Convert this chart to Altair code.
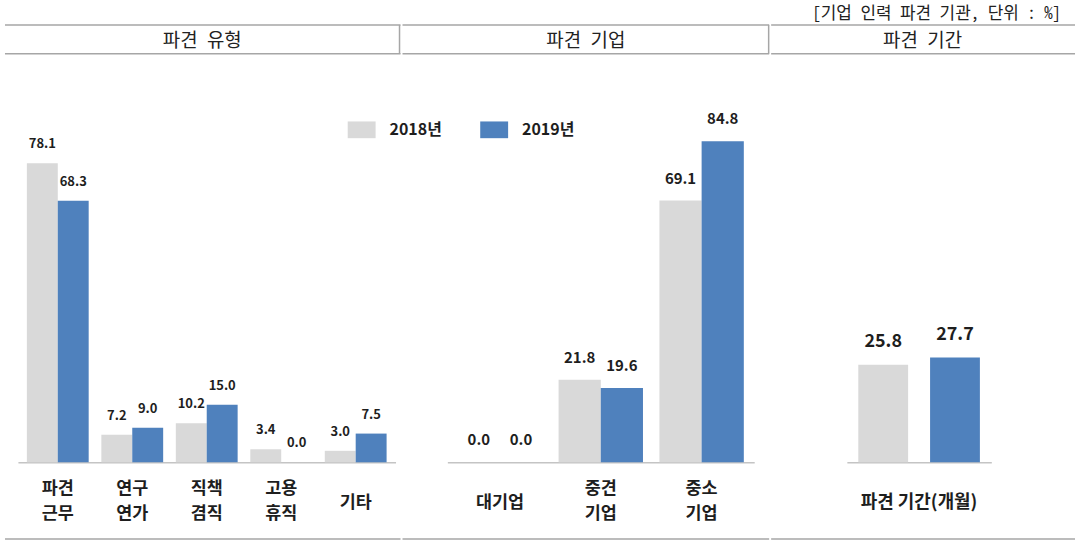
import altair as alt
import pandas as pd

FONT = "Noto Sans CJK KR"
MONO = "Noto Sans Mono CJK KR, Noto Sans CJK KR"
YEARS = ["2018년", "2019년"]
COLORS = ["#d9d9d9", "#4f81bd"]

note_text = "[기업 인력 파견 기관, 단위 : %]"
headers = ["파견 유형", "파견 기업", "파견 기간"]

type_cats = ["파견\n근무", "연구\n연가", "직책\n겸직", "고용\n휴직", "기타"]
type_2018 = [78.1, 7.2, 10.2, 3.4, 3.0]
type_2019 = [68.3, 9.0, 15.0, 0.0, 7.5]

firm_cats = ["대기업", "중견\n기업", "중소\n기업"]
firm_2018 = [0.0, 21.8, 69.1]
firm_2019 = [0.0, 19.6, 84.8]

period_cats = ["파견 기간(개월)"]
period_2018 = [25.8]
period_2019 = [27.7]

LINE = "#a6a6a6"
TXT = "#1e1e1e"

legend = alt.Legend(
    orient="none", legendX=349, legendY=115, direction="horizontal", title=None,
    symbolType="M-1,-0.6H1V0.6H-1Z", symbolSize=784, symbolStrokeWidth=0,
    labelFont=FONT, labelFontSize=16, labelFontWeight="bold", labelColor=TXT,
    labelOffset=14, columnPadding=38, padding=0,
)


def long_df(cats, v18, v19):
    rows = []
    for c, a, b in zip(cats, v18, v19):
        rows.append({"cat": c, "year": YEARS[0], "value": a})
        rows.append({"cat": c, "year": YEARS[1], "value": b})
    return pd.DataFrame(rows)


def panel(cats, v18, v19, width, x_range, pad_in, pad_out, off_pad, ymax,
          label_size, label_dy, cat_size, header, hx, line_l, line_r,
          sep=None, note=False):
    df = long_df(cats, v18, v19)
    x = alt.X("cat:N", sort=cats,
              scale=alt.Scale(range=x_range, paddingInner=pad_in, paddingOuter=pad_out),
              axis=alt.Axis(labels=False, ticks=False, title=None, grid=False,
                            domainColor="#c4c4c4", domainWidth=1.5))
    xo = alt.XOffset("year:N", sort=YEARS,
                     scale=alt.Scale(paddingInner=off_pad, paddingOuter=0))
    y = alt.Y("value:Q", scale=alt.Scale(domain=[0, ymax]), axis=None)
    color = alt.Color("year:N", scale=alt.Scale(domain=YEARS, range=COLORS), legend=legend)

    bars = alt.Chart(df).mark_bar().encode(x=x, xOffset=xo, y=y, color=color)
    vals = alt.Chart(df).mark_text(
        dy=label_dy, baseline="middle", font=FONT, fontSize=label_size,
        fontWeight="bold", color=TXT,
    ).encode(x=x, xOffset=xo, y=y, text=alt.Text("value:Q", format=".1f"))

    parts = [c.split("\n") for c in cats]
    cat_df = pd.DataFrame({
        "cat": cats,
        "l1": [p[0] for p in parts],
        "l2": [p[1] if len(p) > 1 else "" for p in parts],
        "n": [len(p) for p in parts],
    })
    cat_style = dict(baseline="middle", font=FONT, fontSize=cat_size,
                     fontWeight="bold", color=TXT)
    cat_a = alt.Chart(cat_df).transform_filter("datum.n == 2").mark_text(**cat_style).encode(
        x=x, y=alt.value(490), text="l1:N")
    cat_b = alt.Chart(cat_df).transform_filter("datum.n == 2").mark_text(**cat_style).encode(
        x=x, y=alt.value(515), text="l2:N")
    cat_one = alt.Chart(cat_df).transform_filter("datum.n == 1").mark_text(**cat_style).encode(
        x=x, y=alt.value(504), text="l1:N")

    hdf = pd.DataFrame({"h": [header], "n": [note_text]})
    hbase = alt.Chart(hdf)
    head = hbase.mark_text(font=MONO, fontSize=19, color="#222222", baseline="middle").encode(
        x=alt.value(hx), y=alt.value(40), text="h:N")
    top = hbase.mark_rule(color=LINE, strokeWidth=1.5).encode(
        x=alt.value(line_l), x2=alt.value(line_r), y=alt.value(24))
    mid = hbase.mark_rule(color=LINE, strokeWidth=1.5).encode(
        x=alt.value(line_l), x2=alt.value(line_r), y=alt.value(53))
    bot = hbase.mark_rule(color=LINE, strokeWidth=1.5).encode(
        x=alt.value(line_l), x2=alt.value(line_r), y=alt.value(540))
    layers = [bars, vals, cat_a, cat_b, cat_one, head, top, mid, bot]
    if sep is not None:
        layers.append(hbase.mark_rule(color=LINE, strokeWidth=1.5).encode(
            x=alt.value(sep), y=alt.value(24), y2=alt.value(53)))
    if note:
        layers.append(hbase.mark_text(font=MONO, fontSize=17, color="#222222",
                                      align="right", baseline="middle").encode(
            x=alt.value(291), y=alt.value(13.5), text="n:N"))
    return alt.layer(*layers).properties(width=width, height=463)


p1 = panel(type_cats, type_2018, type_2019, 402, [18, 397], 0.17, 0.12, 0, 120.5,
           13, -19, 17.5, headers[0], 203, 5, 402, sep=401)
p2 = panel(firm_cats, firm_2018, firm_2019, 368, [45, 353], 0.163, 0.103, 0, 121.8,
           15, -22, 17.5, headers[1], 184, 0, 368, sep=367.5)
p3 = panel(period_cats, period_2018, period_2019, 310, [76, 221], 0, 0.094, 0.306, 122,
           18, -23, 18, headers[2], 152, 0, 305, note=True)

chart = (
    alt.hconcat(p1, p2, p3, spacing=0, padding=0, background="white")
    .resolve_scale(xOffset="independent")
    .configure_view(stroke=None)
)

chart.save("out.html", embed_options={"renderer": "svg", "actions": False})
